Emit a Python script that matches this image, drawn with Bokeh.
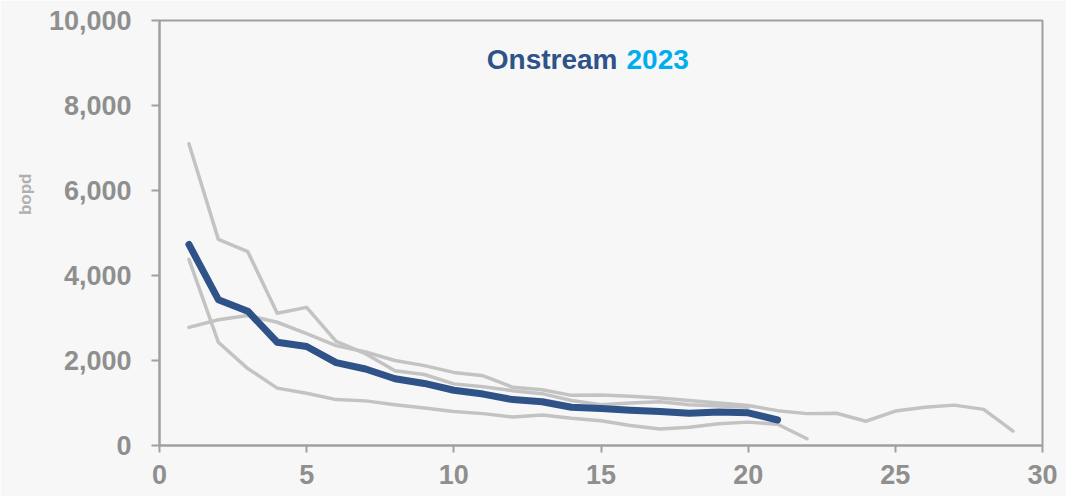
from bokeh.plotting import figure
from bokeh.models import Range1d, NumeralTickFormatter, FixedTicker, Label, Title
from bokeh.embed import file_html
from bokeh.resources import INLINE

# Months onstream
months_a = list(range(1, 21))
well_a = [7100, 4850, 4560, 3110, 3250, 2450, 2160, 1760, 1670, 1450,
          1380, 1290, 1220, 1060, 960, 1000, 1030, 960, 930, 900]

months_b = list(range(1, 30))
well_b = [2780, 2960, 3060, 2900, 2630, 2350, 2200, 2000, 1880, 1720,
          1640, 1370, 1310, 1180, 1190, 1160, 1120, 1060, 1000, 940,
          820, 750, 760, 570, 810, 900, 950, 850, 340]

months_c = list(range(1, 23))
well_c = [4380, 2430, 1810, 1350, 1230, 1080, 1050, 960, 880, 800,
          750, 670, 720, 640, 580, 470, 390, 430, 510, 550, 500, 160]

months_avg = list(range(1, 22))
avg_2023 = [4730, 3430, 3160, 2430, 2330, 1950, 1800, 1570, 1460, 1300,
            1210, 1080, 1030, 900, 870, 830, 800, 760, 790, 770, 600]

x_ticks = [0, 5, 10, 15, 20, 25, 30]
y_ticks = [0, 2000, 4000, 6000, 8000, 10000]

BG = "#F7F7F7"
AXIS = "#A0A0A0"
TICKTXT = "#8F8F8F"
GREY = "#C3C3C3"
BLUE = "#2F5288"
CYAN = "#00AEEF"
FONT = "Liberation Sans"

p = figure(width=1066, height=496, output_backend="svg", toolbar_location=None,
           x_range=Range1d(0, 30), y_range=Range1d(0, 10000),
           min_border_left=159, min_border_right=24, min_border_top=20,
           min_border_bottom=51)

p.background_fill_color = BG
p.border_fill_color = BG
p.outline_line_color = AXIS
p.outline_line_width = 2
p.grid.visible = False

for xs, ys in [(months_a, well_a), (months_b, well_b), (months_c, well_c)]:
    p.line(xs, ys, line_color=GREY, line_width=3.5, line_join="round", line_cap="round")

p.line(months_avg, avg_2023, line_color=BLUE, line_width=7, line_join="round", line_cap="round")

for ax in (p.xaxis[0], p.yaxis[0]):
    ax.axis_line_color = AXIS
    ax.axis_line_width = 2
    ax.major_tick_line_color = AXIS
    ax.major_tick_line_width = 2
    ax.major_tick_in = 0
    ax.minor_tick_line_color = None
    ax.major_label_text_color = TICKTXT
    ax.major_label_text_font = FONT
    ax.major_label_text_font_style = "bold"
    ax.major_label_text_font_size = "27px"

p.xaxis.ticker = FixedTicker(ticks=x_ticks)
p.yaxis.ticker = FixedTicker(ticks=y_ticks)
p.yaxis.formatter = NumeralTickFormatter(format="0,0")
p.xaxis.major_tick_out = 7
p.xaxis.major_label_standoff = 12
p.yaxis.major_tick_out = 8
p.yaxis.major_label_standoff = 20

ylab = Title(text="bopd", align="right", offset=153, text_color="#B0B0B0",
             text_font=FONT, text_font_style="bold", text_font_size="17px",
             standoff=22)
p.add_layout(ylab, "left")

t1 = Label(x=458, y=386, x_units="screen", y_units="screen", text="Onstream",
           text_align="right", text_baseline="middle", text_color=BLUE,
           text_font=FONT, text_font_style="bold", text_font_size="28px")
t2 = Label(x=467, y=386, x_units="screen", y_units="screen", text="2023",
           text_align="left", text_baseline="middle", text_color=CYAN,
           text_font=FONT, text_font_style="bold", text_font_size="28px")
p.add_layout(t1)
p.add_layout(t2)

open("out.html", "w").write(file_html(p, INLINE))
